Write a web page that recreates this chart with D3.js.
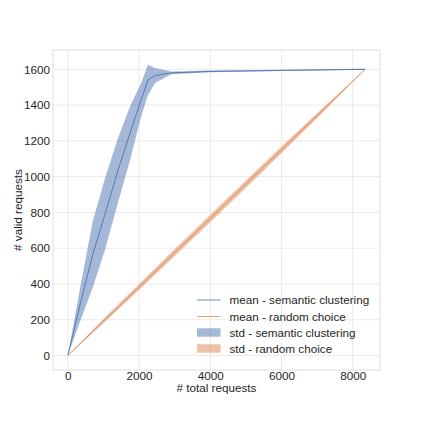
<!DOCTYPE html>
<html>
<head>
<meta charset="utf-8">
<script src="https://cdn.jsdelivr.net/npm/d3@7"></script>
<style>
  html, body { margin: 0; padding: 0; background: #fff; }
  svg text { font-family: "Liberation Sans", Arial, sans-serif; fill: #262626; }
</style>
</head>
<body>
<div id="chart"></div>
<script>
// semantic clustering runs
const semX    = [0, 350, 700, 1050, 1400, 1750, 2050, 2250, 2450, 2900, 4000, 6000, 8350];
const semMean = [0, 290, 565, 795, 1030, 1245, 1425, 1541, 1565, 1580, 1588, 1594, 1600];
const semStd  = [0, 95, 185, 200, 180, 150, 95, 85, 42, 8, 5, 4, 3];

// random choice runs
const randX    = [0, 1000, 2000, 3000, 4000, 5000, 6000, 7000, 8350];
const randMean = [0, 192, 383, 575, 766, 958, 1150, 1341, 1600];
const randStd  = [0, 12, 17, 20, 21, 21, 19, 14, 0];

const xTicks = [0, 2000, 4000, 6000, 8000];
const yTicks = [0, 200, 400, 600, 800, 1000, 1200, 1400, 1600];

const legendLabels = ['mean - semantic clustering', 'mean - random choice',
                      'std - semantic clustering', 'std - random choice'];

const BLUE = '#4c72b0', ORANGE = '#dd8452';

const W = 423, H = 423;
const plot = { left: 53, right: 380, top: 50, bottom: 370 };

const svg = d3.select('#chart').append('svg').attr('width', W).attr('height', H);

const x = d3.scaleLinear().domain([-417.5, 8767.5]).range([plot.left, plot.right]);
const y = d3.scaleLinear().domain([-81, 1708]).range([plot.bottom, plot.top]);

// grid
svg.append('g').selectAll('line').data(xTicks).join('line')
  .attr('x1', d => x(d)).attr('x2', d => x(d))
  .attr('y1', plot.top).attr('y2', plot.bottom)
  .attr('stroke', '#ebebeb').attr('stroke-width', 1);
svg.append('g').selectAll('line').data(yTicks).join('line')
  .attr('x1', plot.left).attr('x2', plot.right)
  .attr('y1', d => y(d)).attr('y2', d => y(d))
  .attr('stroke', '#ebebeb').attr('stroke-width', 1);

// frame
svg.append('rect')
  .attr('x', plot.left).attr('y', plot.top)
  .attr('width', plot.right - plot.left).attr('height', plot.bottom - plot.top)
  .attr('fill', 'none').attr('stroke', '#dedede').attr('stroke-width', 1);

// axes (no tick marks, labels only)
const xAxis = svg.append('g').attr('transform', `translate(0,${plot.bottom})`)
  .call(d3.axisBottom(x).tickValues(xTicks).tickSize(0).tickPadding(2).tickFormat(d3.format('d')));
const yAxis = svg.append('g').attr('transform', `translate(${plot.left},0)`)
  .call(d3.axisLeft(y).tickValues(yTicks).tickSize(0).tickPadding(3).tickFormat(d3.format('d')));
[xAxis, yAxis].forEach(a => {
  a.select('.domain').remove();
  a.selectAll('text').attr('font-size', '11.7px')
    .attr('font-family', '"Liberation Sans", Arial, sans-serif').attr('fill', '#262626');
});

svg.append('text').attr('x', (plot.left + plot.right) / 2).attr('y', 392)
  .attr('text-anchor', 'middle').attr('font-size', '11.7px').text('# total requests');
svg.append('text').attr('transform', `translate(22,${(plot.top + plot.bottom) / 2}) rotate(-90)`)
  .attr('text-anchor', 'middle').attr('font-size', '11.7px').text('# valid requests');

// bands and means
const area = d3.area().x(d => x(d.x)).y0(d => y(d.m - d.s)).y1(d => y(d.m + d.s));
const line = d3.line().x(d => x(d.x)).y(d => y(d.m));

const sem  = semX.map((v, i) => ({ x: v, m: semMean[i], s: semStd[i] }));
const rand = randX.map((v, i) => ({ x: v, m: randMean[i], s: randStd[i] }));

svg.append('path').datum(sem).attr('d', area).attr('fill', BLUE).attr('fill-opacity', 0.5);
svg.append('path').datum(rand).attr('d', area).attr('fill', ORANGE).attr('fill-opacity', 0.5);
svg.append('path').datum(sem).attr('d', line).attr('fill', 'none').attr('stroke', BLUE).attr('stroke-width', 0.9);
svg.append('path').datum(rand).attr('d', line).attr('fill', 'none').attr('stroke', ORANGE).attr('stroke-width', 0.9);

// legend
const lg = svg.append('g');
const rowY = [304, 320.5, 336.5, 352.5];
legendLabels.forEach((lab, i) => {
  const c = i % 2 === 0 ? BLUE : ORANGE;
  const cy = rowY[i] - 4;
  if (i < 2) {
    lg.append('line').attr('x1', 197).attr('x2', 220.5).attr('y1', cy).attr('y2', cy)
      .attr('stroke', c).attr('stroke-width', 1).attr('stroke-opacity', 0.8);
  } else {
    lg.append('rect').attr('x', 197).attr('y', cy - 4.2).attr('width', 23.5).attr('height', 8.4)
      .attr('fill', c).attr('fill-opacity', 0.5);
  }
  lg.append('text').attr('x', 229.5).attr('y', rowY[i]).attr('font-size', '11.7px').text(lab);
});
</script>
</body>
</html>
